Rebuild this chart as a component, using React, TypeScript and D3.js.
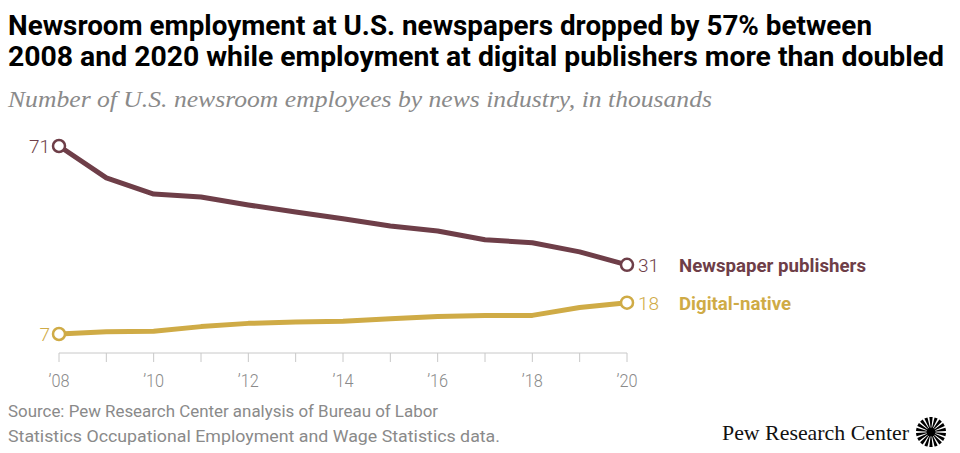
import * as d3 from "d3";

const years = [2008, 2009, 2010, 2011, 2012, 2013, 2014, 2015, 2016, 2017, 2018, 2019, 2020];
const newspaper = [71.07, 60.3, 54.8, 53.8, 51.1, 48.7, 46.4, 44.0, 42.3, 39.3, 38.3, 35.2, 30.82];
const digital = [7.4, 8.2, 8.3, 9.9, 11.0, 11.5, 11.7, 12.6, 13.3, 13.7, 13.7, 16.4, 18.0];
const tickYears = [2008, 2010, 2012, 2014, 2016, 2018, 2020];
const tickLabels = ["’08", "’10", "’12", "’14", "’16", "’18", "’20"];
const seriesNames = ["Newspaper publishers", "Digital-native"];

const MAROON = "#6e3e48";
const GOLD = "#cfab46";
const GRAY = "#8a8a8a";
const SANS = "Roboto, 'Liberation Sans', sans-serif";
const SERIF = "'Liberation Serif', 'DejaVu Serif', serif";

const App = () => {
  const width = 960;
  const height = 453;

  const x = d3.scaleLinear().domain([2008, 2020]).range([59, 627]);
  const y = d3.scaleLinear().domain([7.4, 71.07]).range([334, 146]);

  const line = d3
    .line<number>()
    .x((_, i) => x(years[i]))
    .y((d) => y(d));

  const series = [
    { name: seriesNames[0], values: newspaper, color: MAROON },
    { name: seriesNames[1], values: digital, color: GOLD },
  ];

  const axisY = 353;
  const last = years.length - 1;

  // logo rays
  const rays = d3.range(18).map((i) => {
    const a = (i * 2 * Math.PI) / 18;
    return d3.arc()({
      innerRadius: 2,
      outerRadius: 15,
      startAngle: a - 0.11,
      endAngle: a + 0.11,
    } as any) as string;
  });

  return (
    <svg
      width={width}
      height={height}
      style={{ position: "absolute", left: 0, top: 0, background: "#fff" }}
    >
      <g fontFamily={SANS} fontWeight={700} fontSize={28} fill="#000">
        <text x={8} y={35} textLength={864} lengthAdjust="spacingAndGlyphs">
          Newsroom employment at U.S. newspapers dropped by 57% between
        </text>
        <text x={8} y={66} textLength={936} lengthAdjust="spacingAndGlyphs">
          2008 and 2020 while employment at digital publishers more than doubled
        </text>
      </g>
      <text
        x={8}
        y={107}
        fontFamily={SERIF}
        fontStyle="italic"
        fontSize={23}
        fill={GRAY}
        textLength={704}
        lengthAdjust="spacingAndGlyphs"
      >
        Number of U.S. newsroom employees by news industry, in thousands
      </text>

      {/* x axis */}
      <line x1={x(2008)} x2={x(2020)} y1={axisY} y2={axisY} stroke="#c8c8c8" strokeWidth={1} />
      {years.map((yr) => (
        <line key={yr} x1={x(yr)} x2={x(yr)} y1={axisY} y2={axisY + 9} stroke="#c8c8c8" strokeWidth={1} />
      ))}
      {tickYears.map((yr, i) => (
        <text
          key={yr}
          x={x(yr)}
          y={387}
          textAnchor="middle"
          fontFamily={SANS}
          fontWeight={300}
          fontSize={18}
          fill={GRAY}
          textLength={21}
          lengthAdjust="spacingAndGlyphs"
        >
          {tickLabels[i]}
        </text>
      ))}

      {series.map((s) => (
        <g key={s.name}>
          <path
            d={line(s.values) as string}
            fill="none"
            stroke={s.color}
            strokeWidth={5}
            strokeLinejoin="round"
            strokeLinecap="round"
          />
          <circle cx={x(years[0])} cy={y(s.values[0])} r={6} fill="#fff" stroke={s.color} strokeWidth={2.5} />
          <circle cx={x(years[last])} cy={y(s.values[last])} r={6} fill="#fff" stroke={s.color} strokeWidth={2.5} />
          <text
            x={x(years[0]) - 9}
            y={y(s.values[0])}
            dy="0.36em"
            textAnchor="end"
            fontFamily={SANS}
            fontWeight={300}
            fontSize={19}
            fill={s.color}
          >
            {Math.round(s.values[0])}
          </text>
          <text
            x={x(years[last]) + 11}
            y={y(s.values[last])}
            dy="0.36em"
            fontFamily={SANS}
            fontWeight={300}
            fontSize={19}
            fill={s.color}
          >
            {Math.round(s.values[last])}
          </text>
          <text
            x={679}
            y={y(s.values[last])}
            dy="0.36em"
            fontFamily={SANS}
            fontWeight={700}
            fontSize={19}
            fill={s.color}
            textLength={s.name === seriesNames[0] ? 187 : 112}
            lengthAdjust="spacingAndGlyphs"
          >
            {s.name}
          </text>
        </g>
      ))}

      <g fontFamily={SANS} fontWeight={400} fontSize={17} fill={GRAY}>
        <text x={8} y={417} textLength={430} lengthAdjust="spacingAndGlyphs">
          Source: Pew Research Center analysis of Bureau of Labor
        </text>
        <text x={8} y={442} textLength={492} lengthAdjust="spacingAndGlyphs">
          Statistics Occupational Employment and Wage Statistics data.
        </text>
      </g>

      <text
        x={909}
        y={440}
        textAnchor="end"
        fontFamily={SERIF}
        fontSize={22}
        fill="#111"
        textLength={187}
        lengthAdjust="spacingAndGlyphs"
      >
        Pew Research Center
      </text>
      <g transform="translate(931,432)">
        {rays.map((d, i) => (
          <path key={i} d={d} fill="#000" />
        ))}
        <circle r={4.5} fill="#000" />
      </g>
    </svg>
  );
};

export default App;
